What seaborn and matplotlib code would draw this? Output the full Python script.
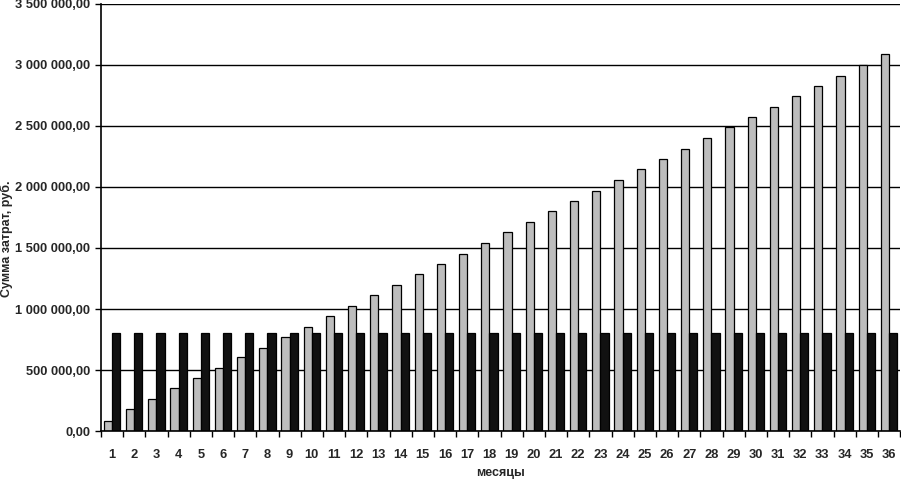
import numpy as np
import pandas as pd
import matplotlib
matplotlib.use('Agg')
from matplotlib import pyplot as plt
from matplotlib.ticker import FuncFormatter, FixedLocator
import seaborn as sns

# months on x axis
months = [str(m) for m in range(1, 37)]

# growing cost series (rub.)
costs_growing = [85000, 178000, 262000, 350000, 432000, 519000, 604000, 683000, 773000,
                 855000, 943000, 1027000, 1112000, 1199000, 1284000, 1369000, 1453000, 1544000,
                 1631000, 1713000, 1801000, 1885000, 1970000, 2060000, 2145000, 2232000, 2314000,
                 2404000, 2489000, 2574000, 2658000, 2746000, 2830000, 2912000, 3002000, 3088000]

# constant cost series
costs_flat = [800000] * 36

series_names = ['A', 'B']
colors = ['#bdbdbd', '#111111']

df = pd.DataFrame({
    'month': months * 2,
    'value': costs_growing + costs_flat,
    'series': [series_names[0]] * 36 + [series_names[1]] * 36,
})

sns.set_style('white')
plt.rcParams['font.family'] = ['Liberation Sans', 'DejaVu Sans']

fig = plt.figure(figsize=(9.01, 4.79), dpi=100)
ax = fig.add_axes([0.112, 0.100, 0.887, 0.892])

sns.barplot(data=df, x='month', y='value', hue='series', palette=colors,
            width=0.74, edgecolor='black', linewidth=0.9, legend=False, ax=ax)

ax.set_ylim(0, 3500000)
ax.set_xlim(-0.5, 35.5)
ax.yaxis.set_major_locator(FixedLocator(np.arange(0, 3500001, 500000)))


def rub(v, pos):
    s = f'{v:,.2f}'
    return s.replace(',', ' ').replace('.', ',')


ax.yaxis.set_major_formatter(FuncFormatter(rub))
ax.grid(axis='y', color='black', linewidth=1.0)
ax.set_axisbelow(True)

for side in ['top', 'right']:
    ax.spines[side].set_visible(False)
for side in ['left', 'bottom']:
    ax.spines[side].set_color('black')
    ax.spines[side].set_linewidth(1.2)

# x tick marks between the groups, labels at centers
ax.set_xticks(np.arange(-0.5, 36, 1), minor=True)
ax.tick_params(axis='x', which='major', length=0, pad=13, labelsize=9.3)
ax.tick_params(axis='x', which='minor', length=4, width=1, color='black', direction='out', bottom=True)
ax.tick_params(axis='y', length=4, width=1, color='black', direction='out', left=True, labelsize=9.3)
for lab in ax.get_xticklabels() + ax.get_yticklabels():
    lab.set_fontweight('bold')

ax.set_xlabel('месяцы', fontsize=9, fontweight='bold', labelpad=4)
ax.set_ylabel('Сумма затрат, руб.', fontsize=9, fontweight='bold')
ax.yaxis.set_label_coords(-0.11, 0.45)

fig.savefig('out.png', dpi=100)
